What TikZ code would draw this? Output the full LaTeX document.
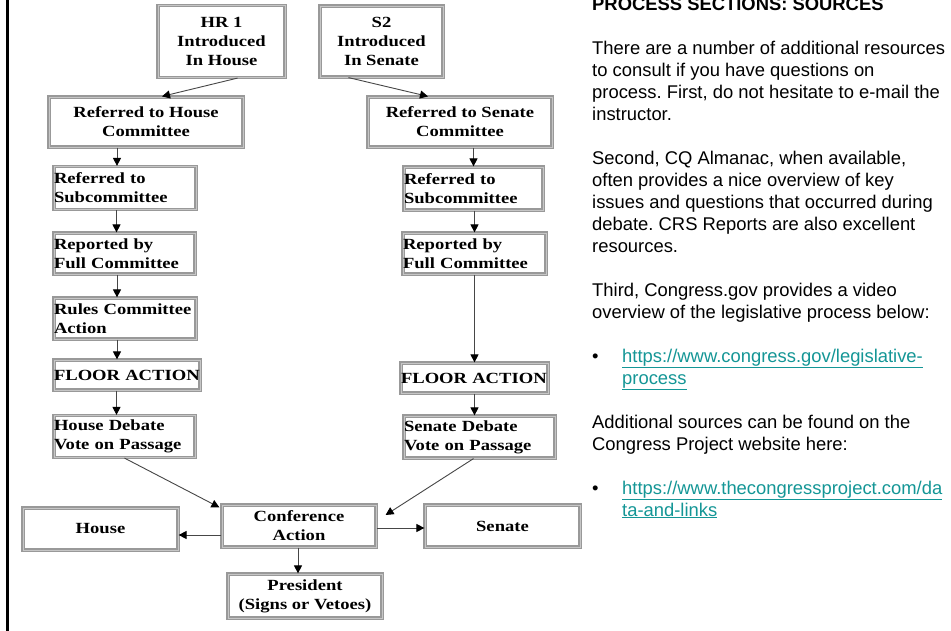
\documentclass[tikz,border=0pt]{standalone}
\usepackage{fontspec}
\setmainfont{Liberation Sans}
\newfontfamily\boxfont[FakeStretch=1.2]{Liberation Serif}
\usetikzlibrary{arrows.meta}
\definecolor{linkteal}{RGB}{20,150,150}
\newcommand\weblink[1]{{\color{linkteal}\underline{#1}}}
\newcommand\bull{\makebox[30pt][l]{\textbullet}}
\frenchspacing
\tikzset{
  stage/.style={draw=gray!80, double=gray!45, double distance=0.9pt, line width=1.2pt,
    fill=white, inner sep=0pt, align=center,
    font=\boxfont\bfseries\fontsize{15.5}{19}\selectfont},
  lstage/.style={stage, text width=#1, align=left},
  flow/.style={draw=gray!55!black, line width=0.9pt, -{Triangle[length=8pt,width=8pt,black]}},
  panel/.style={inner sep=0pt, align=left, font=\fontsize{18.4}{22}\selectfont}
}
\begin{document}
\begin{tikzpicture}[x=1pt,y=-1pt]
\useasboundingbox (0,0) rectangle (951,631);
\fill[white] (0,0) rectangle (951,631);
\draw[line width=3pt] (7,0) -- (7,631);

\node[stage, minimum width=127pt, minimum height=72pt] (hr) at (221.5,41.5) {HR 1\\Introduced\\In House};
\node[stage, minimum width=123pt, minimum height=71pt] (s2) at (381.5,41.5) {S2\\Introduced\\In Senate};
\node[stage, minimum width=194pt, minimum height=50pt] (hcom) at (146,122) {Referred to House\\Committee};
\node[stage, minimum width=184pt, minimum height=50pt] (scom) at (460,122) {Referred to Senate\\Committee};
\node[lstage=142pt, minimum height=43pt] (hsub) at (125,188) {Referred to\\Subcommittee};
\node[lstage=139pt, minimum height=43pt] (ssub) at (473.5,188.5) {Referred to\\Subcommittee};
\node[lstage=141pt, minimum height=41pt] (hrep) at (124.5,253.5) {Reported by\\Full Committee};
\node[lstage=143pt, minimum height=41pt] (srep) at (474.5,253.5) {Reported by\\Full Committee};
\node[lstage=142pt, minimum height=41pt] (rules) at (125,318.5) {Rules Committee\\Action};
\node[lstage=146pt, minimum height=30pt] (hfloor) at (127,375) {\mbox{FLOOR ACTION}};
\node[lstage=147pt, minimum height=30pt] (sfloor) at (474.5,378) {\mbox{FLOOR ACTION}};
\node[lstage=141pt, minimum height=42pt] (hdeb) at (124.5,436.5) {House Debate\\Vote on Passage};
\node[lstage=151pt, minimum height=42pt] (sdeb) at (479.5,437) {Senate Debate\\Vote on Passage};
\node[stage, minimum width=154pt, minimum height=42pt] (conf) at (299,526) {Conference\\Action};
\node[stage, minimum width=155pt, minimum height=42pt] (house) at (100.5,529) {House};
\node[stage, minimum width=155pt, minimum height=42pt] (senate) at (502.5,526) {Senate};
\node[stage, minimum width=154pt, minimum height=44pt] (pres) at (305,596) {President\\(Signs or Vetoes)};

\draw[flow] ([xshift=16pt]hr.south) -- ([xshift=16pt]hcom.north);
\draw[flow] ([xshift=-33pt]s2.south) -- ([xshift=-32pt]scom.north);
\draw[flow] ([xshift=-8pt]hsub.north |- hcom.south) -- ([xshift=-8pt]hsub.north);
\draw[flow] ([xshift=-8pt]hrep.north |- hsub.south) -- ([xshift=-8pt]hrep.north);
\draw[flow] ([xshift=-8pt]rules.north |- hrep.south) -- ([xshift=-8pt]rules.north);
\draw[flow] ([xshift=-10pt]hfloor.north |- rules.south) -- ([xshift=-10pt]hfloor.north);
\draw[flow] ([xshift=-8pt]hdeb.north |- hfloor.south) -- ([xshift=-8pt]hdeb.north);
\draw[flow] (ssub.north |- scom.south) -- (ssub.north);
\draw[flow] (srep.north |- ssub.south) -- (srep.north);
\draw[flow] (srep.south) -- (srep.south |- sfloor.north);
\draw[flow] (sfloor.south) -- (sfloor.south |- sdeb.north);
\draw[flow] (hdeb.south) -- ([shift={(-2pt,-3pt)}]conf.north west);
\draw[flow] ([xshift=-6pt]sdeb.south) -- ([shift={(9pt,11pt)}]conf.east);
\draw[flow] ([yshift=-9pt]conf.west) -- ([yshift=-9pt]conf.west -| house.east);
\draw[flow] ([yshift=-2pt]conf.east) -- ([yshift=-2pt]conf.east -| senate.west);
\draw[flow] ([xshift=-1pt]conf.south) -- ([xshift=-1pt]conf.south |- pres.north);

\node[panel, anchor=north west] (notes) at (592,-3) {%
\textbf{PROCESS SECTIONS: SOURCES}\\[22pt]
There are a number of additional resources\\
to consult if you have questions on\\
process. First, do not hesitate to e-mail the\\
instructor.\\[22pt]
Second, CQ Almanac, when available,\\
often provides a nice overview of key\\
issues and questions that occurred during\\
debate. CRS Reports are also excellent\\
resources.\\[22pt]
Third, Congress.gov provides a video\\
overview of the legislative process below:\\[22pt]
\bull\weblink{https://www.congress.gov/legislative-}\\
\hspace*{30pt}\weblink{process}\\[22pt]
Additional sources can be found on the\\
Congress Project website here:\\[22pt]
\bull\weblink{https://www.thecongressproject.com/da}\\
\hspace*{30pt}\weblink{ta-and-links}};
\end{tikzpicture}
\end{document}
